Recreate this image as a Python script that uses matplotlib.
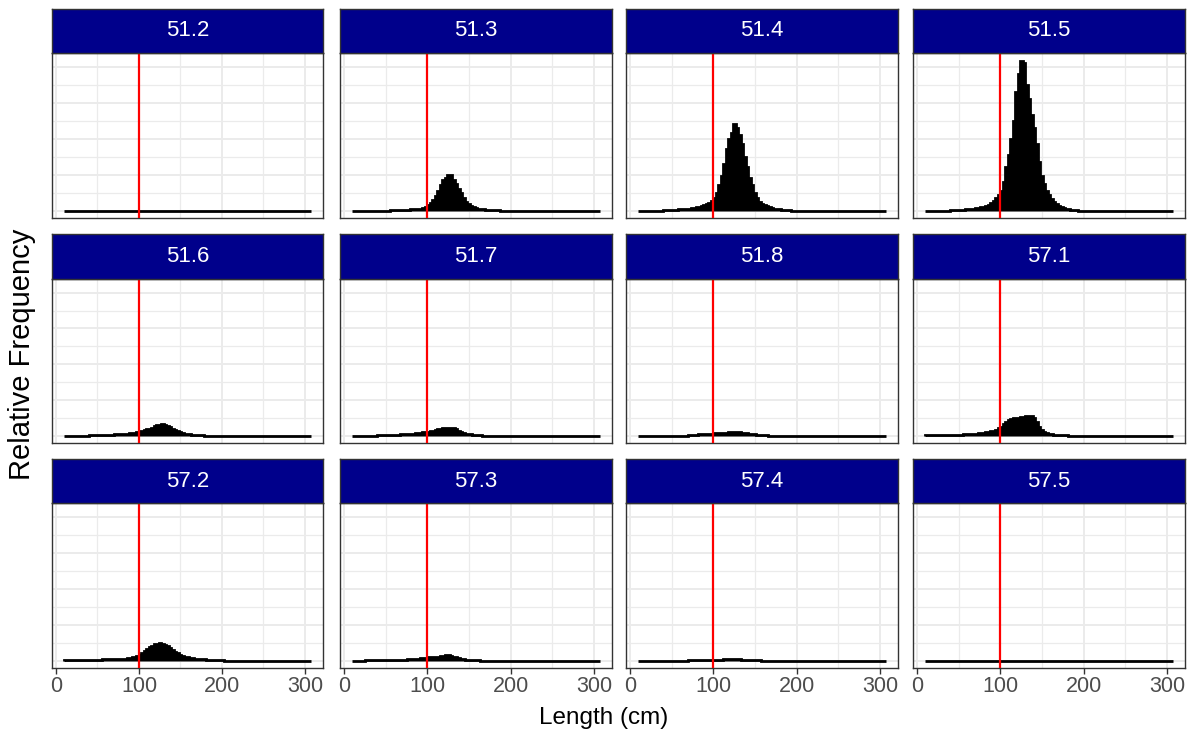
import numpy as np
import matplotlib
matplotlib.use("Agg")
import matplotlib.pyplot as plt

plt.rcParams["font.family"] = ["Liberation Sans", "DejaVu Sans"]

# Length bins (cm): left edges, width 3 cm
bin_width = 3
bin_lefts = np.arange(10, 307, bin_width)

# Relative frequency per bin, in per mille, starting at the given length
areas = ["51.2", "51.3", "51.4", "51.5",
         "51.6", "51.7", "51.8", "57.1",
         "57.2", "57.3", "57.4", "57.5"]

start_51_2 = 10
rf_51_2 = []

start_51_3 = 55
rf_51_3 = [0.2, 0.2, 0.3, 0.3, 0.3, 0.4, 0.4, 0.5, 0.6, 0.7, 0.8, 0.9, 1.1, 1.4,
           1.8, 3.0, 4.3, 6.0, 8.0, 11.0, 14.0, 17.0,
           18.0, 20.0, 19.5, 17.0, 14.5, 12.0, 9.5, 7.0, 5.0, 3.6, 2.6, 1.8, 1.3,
           1.0, 0.8, 0.6, 0.5, 0.4, 0.3, 0.2, 0.2, 0.1]

start_51_4 = 40
rf_51_4 = [0.2, 0.3, 0.3, 0.4, 0.5, 0.5, 0.6, 0.7, 0.8, 1.0, 1.1, 1.3, 1.5, 1.8,
           2.1, 2.5, 2.9, 3.4, 4.2, 5.3, 7.0, 9.5, 14.0, 19.0, 26.0, 34.0, 40.0,
           43.0, 48.0, 46.0, 42.0, 37.0, 30.0, 24.0, 18.0, 14.0, 10.0, 7.0, 5.0,
           3.8, 3.0, 2.3, 1.8, 1.4, 1.0, 0.8, 0.6, 0.5, 0.3, 0.2, 0.1]

start_51_5 = 40
rf_51_5 = [0.2, 0.2, 0.3, 0.3, 0.4, 0.5, 0.6, 0.7, 0.9, 1.0, 1.2, 1.5, 1.8, 2.2,
           2.7, 3.3, 4.2, 5.3, 6.8, 8.5, 11.0, 16.0, 24.0, 31.0, 40.0, 50.0,
           66.0, 76.0, 83.5, 82.0, 70.0, 62.0, 53.0, 46.0, 37.0, 27.0, 19.0,
           15.0, 11.0, 8.5, 6.5, 5.0, 3.5, 2.6, 1.8, 1.3, 0.9, 0.6, 0.4, 0.3, 0.2]

start_51_6 = 40
rf_51_6 = [0.2, 0.2, 0.2, 0.3, 0.3, 0.3, 0.4, 0.4, 0.5, 0.5, 0.6, 0.7, 0.8, 0.9,
           1.0, 1.1, 1.3, 1.5, 1.7, 2.0, 2.3, 2.6, 3.0, 3.4, 3.9, 4.5, 5.1, 5.7,
           6.1, 6.2, 5.9, 5.3, 4.6, 3.8, 3.0, 2.4, 1.8, 1.4, 1.1, 0.8, 0.6, 0.5,
           0.4, 0.3, 0.2, 0.1]

start_51_7 = 40
rf_51_7 = [0.1, 0.2, 0.2, 0.2, 0.3, 0.3, 0.4, 0.4, 0.5, 0.6, 0.7, 0.8, 0.9, 1.0,
           1.1, 1.2, 1.4, 1.6, 1.8, 2.0, 2.2, 2.5, 2.8, 3.1, 3.4, 3.7, 4.0, 4.3,
           4.5, 4.4, 4.0, 3.4, 2.7, 2.0, 1.5, 1.1, 0.8, 0.6, 0.4, 0.3, 0.2, 0.1]

start_51_8 = 70
rf_51_8 = [0.2, 0.3, 0.4, 0.5, 0.6, 0.7, 0.8, 0.9, 1.0, 1.1, 1.2, 1.3, 1.4, 1.5,
           1.6, 1.7, 1.8, 1.8, 1.9, 1.9, 1.8, 1.6, 1.4, 1.2, 1.0, 0.8, 0.6, 0.5,
           0.4, 0.3, 0.2, 0.1]

start_57_1 = 10
rf_57_1 = [0.1, 0.1, 0.1, 0.1, 0.2, 0.2, 0.2, 0.2, 0.3, 0.3, 0.3, 0.4, 0.4, 0.5,
           0.5, 0.6, 0.7, 0.8, 0.9, 1.0, 1.1, 1.2, 1.4, 1.6, 1.8, 2.1, 2.4, 2.8,
           3.3, 4.0, 5.0, 6.5, 7.8, 8.5, 9.2, 9.6, 9.8, 10.0, 10.4, 10.6, 10.8,
           11.0, 11.0, 10.0, 7.5, 5.0, 3.2, 2.2, 1.5, 1.0, 0.7, 0.5, 0.4, 0.3,
           0.2, 0.2, 0.1]

start_57_2 = 10
rf_57_2 = [0.4, 0.4, 0.4, 0.4, 0.4, 0.4, 0.4, 0.5, 0.5, 0.5, 0.5, 0.5, 0.5, 0.5,
           0.5, 0.6, 0.6, 0.6, 0.6, 0.7, 0.7, 0.8, 0.9, 1.0, 1.1, 1.3, 1.5, 1.7,
           2.0, 2.5, 3.3, 4.2, 5.2, 6.3, 7.3, 8.2, 9.0, 9.4, 9.5, 9.3, 8.6, 7.8,
           6.8, 5.8, 4.8, 4.0, 3.3, 2.7, 2.2, 1.8, 1.5, 1.3, 1.1, 0.9, 0.8, 0.7,
           0.6, 0.5, 0.4, 0.3, 0.3, 0.2, 0.2, 0.1]

start_57_3 = 25
rf_57_3 = [0.1, 0.1, 0.1, 0.1, 0.2, 0.2, 0.2, 0.2, 0.2, 0.3, 0.3, 0.3, 0.3, 0.3,
           0.3, 0.4, 0.5, 0.7, 0.9, 1.0, 1.1, 1.1, 1.2, 1.3, 1.5, 1.7, 1.9, 2.0,
           2.1, 2.2, 2.3, 2.5, 2.8, 3.0, 2.6, 2.1, 1.7, 1.3, 1.0, 0.7, 0.5, 0.4,
           0.3, 0.2, 0.2, 0.1]

start_57_4 = 70
rf_57_4 = [0.1, 0.1, 0.1, 0.2, 0.2, 0.2, 0.3, 0.3, 0.3, 0.4, 0.4, 0.5, 0.5, 0.5,
           0.6, 0.6, 0.6, 0.7, 0.7, 0.7, 0.6, 0.5, 0.4, 0.4, 0.3, 0.2, 0.2, 0.1,
           0.1]

start_57_5 = 10
rf_57_5 = []

starts = [start_51_2, start_51_3, start_51_4, start_51_5,
          start_51_6, start_51_7, start_51_8, start_57_1,
          start_57_2, start_57_3, start_57_4, start_57_5]
series = [rf_51_2, rf_51_3, rf_51_4, rf_51_5,
          rf_51_6, rf_51_7, rf_51_8, rf_57_1,
          rf_57_2, rf_57_3, rf_57_4, rf_57_5]

ref_length = 100
x_ticks = [0, 100, 200, 300]


def full_bins(start, vals):
    out = np.zeros(len(bin_lefts))
    i0 = int(np.searchsorted(bin_lefts, start))
    v = np.asarray(vals, dtype=float) / 1000.0
    out[i0:i0 + len(v)] = v
    return out


heights = [full_bins(s, v) for s, v in zip(starts, series)]
edges = np.append(bin_lefts, bin_lefts[-1] + bin_width)
ymax = max(h.max() for h in heights)
lo, hi = edges[0], edges[-1]
xpad = 0.05 * (hi - lo)

W, H = 1194, 740
fig = plt.figure(figsize=(W / 100, H / 100), dpi=100)


def px_axes(x0, y0, x1, y1):
    return fig.add_axes([x0 / W, 1 - y1 / H, (x1 - x0) / W, (y1 - y0) / H])


cols = [(52, 323), (340, 612), (626, 898), (913, 1185)]
rows = [(9, 53, 218), (234, 279, 443), (459, 503, 668)]

border = "#333333"
for k, (name, h) in enumerate(zip(areas, heights)):
    r, c = divmod(k, 4)
    x0, x1 = cols[c]
    st, p0, p1 = rows[r]

    ax = px_axes(x0, p0, x1, p1)
    ax.set_axisbelow(True)
    ax.stairs(h, edges, fill=True, facecolor="black", edgecolor="black",
              linewidth=2.0, zorder=2)
    ax.axvline(ref_length, color="red", linewidth=1.6, zorder=3)
    ax.set_xlim(lo - xpad, hi + xpad)
    ax.set_ylim(-0.05 * ymax, 1.05 * ymax)

    ax.set_xticks(x_ticks)
    ax.set_xticks([50, 150, 250], minor=True)
    ax.set_yticks([0, 0.02, 0.04, 0.06, 0.08])
    ax.set_yticks([0.01, 0.03, 0.05, 0.07], minor=True)
    ax.grid(which="major", color="#EBEBEB", linewidth=1.4)
    ax.grid(which="minor", color="#EBEBEB", linewidth=0.9)
    ax.tick_params(axis="y", which="both", length=0, labelleft=False)
    ax.tick_params(axis="x", which="minor", length=0)
    if r == 2:
        ax.tick_params(axis="x", which="major", length=4, width=1.0,
                       color=border, labelcolor="#4D4D4D", labelsize=15.5, pad=2)
    else:
        ax.tick_params(axis="x", which="major", length=0, labelbottom=False)
    for s in ax.spines.values():
        s.set_color(border)
        s.set_linewidth(1.0)

    sax = px_axes(x0, st, x1, p0)
    sax.set_facecolor("#00008B")
    sax.set_xticks([])
    sax.set_yticks([])
    for s in sax.spines.values():
        s.set_color(border)
        s.set_linewidth(1.0)
    sax.text(0.5, 0.5, name, color="white", fontsize=16,
             ha="center", va="center", transform=sax.transAxes)

fig.text(604 / W, 1 - 718 / H, "Length (cm)", fontsize=17.5,
         ha="center", va="center")
fig.text(22 / W, 1 - 354 / H, "Relative Frequency", fontsize=21,
         rotation=90, ha="center", va="center")

fig.savefig("out.png", dpi=100)
